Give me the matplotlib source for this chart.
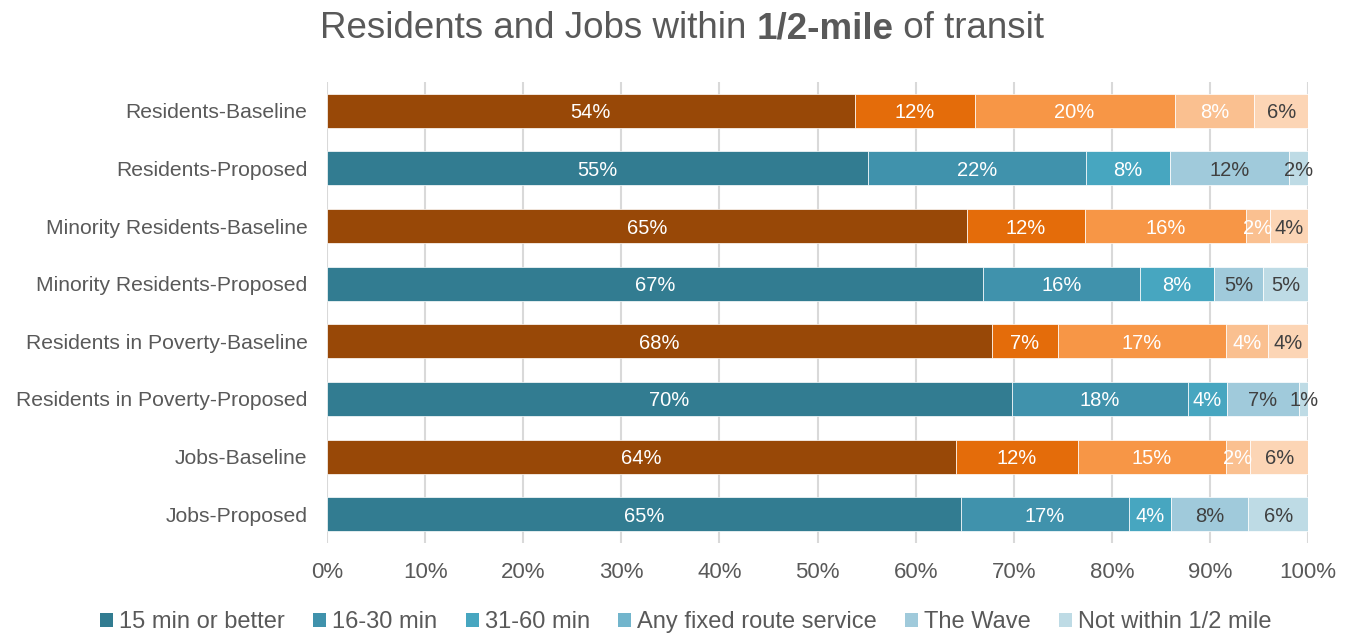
import matplotlib
matplotlib.use("Agg")
import matplotlib.pyplot as plt
import numpy as np
from matplotlib.patches import Patch
from matplotlib import rcParams

rcParams["font.family"] = ["Liberation Sans", "DejaVu Sans"]

categories = [
    "Residents-Baseline",
    "Residents-Proposed",
    "Minority Residents-Baseline",
    "Minority Residents-Proposed",
    "Residents in Poverty-Baseline",
    "Residents in Poverty-Proposed",
    "Jobs-Baseline",
    "Jobs-Proposed",
]
series_names = [
    "15 min or better",
    "16-30 min",
    "31-60 min",
    "Any fixed route service",
    "The Wave",
    "Not within 1/2 mile",
]

# shares in percent, one list per legend series (row order as categories)
min15 = [53.8, 55.1, 65.2, 66.9, 67.8, 69.8, 64.1, 64.6]
min16_30 = [12.2, 22.3, 12.1, 16.0, 6.7, 18.0, 12.4, 17.1]
min31_60 = [20.4, 8.5, 16.4, 7.5, 17.1, 3.9, 15.1, 4.3]
any_fixed = [8.1, 0, 2.4, 0, 4.3, 0, 2.5, 0]
the_wave = [0, 12.2, 0, 5.0, 0, 7.4, 0, 7.9]
not_within = [5.6, 1.9, 3.9, 4.6, 4.1, 0.9, 5.9, 6.1]
is_baseline = [True, False, True, False, True, False, True, False]

series = [min15, min16_30, min31_60, any_fixed, the_wave, not_within]

blue = ["#327C91", "#4092AC", "#47A6C0", "#72B5CC", "#A0CADB", "#BEDBE5"]
orange = ["#984807", "#E46C0A", "#F79646", "#FAC090", "#FAC090", "#FCD5B5"]
blue_txt = ["white", "white", "white", "white", "#404040", "#404040"]
orange_txt = ["white", "white", "white", "white", "white", "#404040"]

fig = plt.figure(figsize=(13.53, 6.33), dpi=100)
ax = fig.add_axes([0.2417, 0.1422, 0.9668 - 0.2417, 0.8705 - 0.1422])

y = np.arange(len(categories))
left = np.zeros(len(categories))
for k, vals in enumerate(series):
    vals = np.array(vals, dtype=float)
    cols = [orange[k] if b else blue[k] for b in is_baseline]
    ax.barh(y, vals, left=left, height=0.59, color=cols,
            edgecolor="white", linewidth=0.5, zorder=2)
    for i, v in enumerate(vals):
        if v > 0:
            tc = orange_txt[k] if is_baseline[i] else blue_txt[k]
            ax.text(left[i] + v / 2, y[i], f"{round(v):d}%", ha="center",
                    va="center_baseline", fontsize=14.5, color=tc, zorder=3)
    left += vals

ax.set_xlim(0, 100)
ax.set_ylim(len(categories) - 0.5, -0.5)
ax.set_yticks(y)
ax.set_yticklabels(categories, fontsize=15.2, color="#595959")
ax.set_xticks(np.arange(0, 101, 10))
ax.set_xticklabels([f"{t}%" for t in range(0, 101, 10)], fontsize=16,
                   color="#595959")
ax.tick_params(length=0)
ax.tick_params(axis="y", pad=14)
ax.tick_params(axis="x", pad=14)
ax.grid(axis="x", color="#D9D9D9", linewidth=1.5, zorder=0)
ax.set_axisbelow(True)
for s in ax.spines.values():
    s.set_visible(False)

# title with a bold middle part
parts = [("Residents and Jobs within ", "normal"), ("1/2-mile", "bold"),
         (" of transit", "normal")]
renderer = fig.canvas.get_renderer()
texts = []
for txt, w in parts:
    t = fig.text(0, 1 - 29 / 633, txt, fontsize=26.5, fontweight=w,
                 color="#595959", va="center", ha="left")
    texts.append(t)
widths = [t.get_window_extent(renderer).width for t in texts]
x0 = (682 - sum(widths) / 2)
for t, wd in zip(texts, widths):
    t.set_x(x0 / 1353)
    x0 += wd

handles = [Patch(facecolor=c, edgecolor="none") for c in blue]
fig.legend(handles, series_names, loc="center", ncol=6, frameon=False,
           bbox_to_anchor=(0.507, 1 - 622 / 633), fontsize=17,
           labelcolor="#595959", handlelength=0.55, handleheight=0.55,
           handletextpad=0.25, columnspacing=1.2)

fig.savefig("out.png", dpi=100)
